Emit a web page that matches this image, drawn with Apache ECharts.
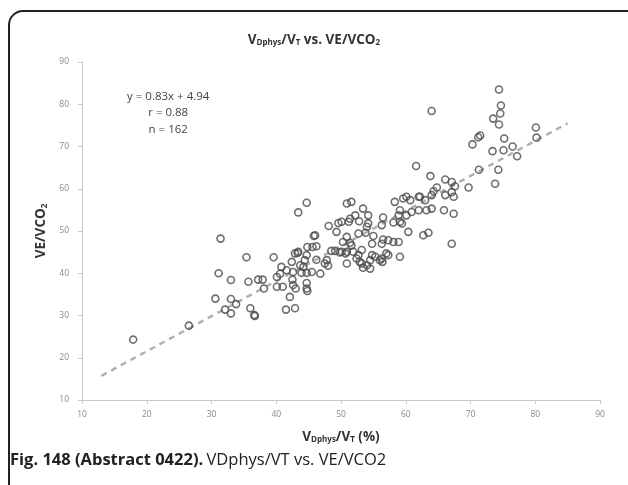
<!DOCTYPE html>
<html>
<head>
<meta charset="utf-8">
<script src="https://cdn.jsdelivr.net/npm/echarts@6/dist/echarts.min.js"></script>
<style>html,body{margin:0;padding:0;background:#fff}#c{width:628px;height:485px}</style>
</head>
<body>
<div id="c"></div>
<script>
const xTicks = [10, 20, 30, 40, 50, 60, 70, 80, 90];
const yTicks = [10, 20, 30, 40, 50, 60, 70, 80, 90];
const vdVt = [17.9,26.5,30.6,31.1,31.4,32.1,33.0,33.0,33.0,33.8,35.4,35.7,36.0,36.6,36.7,37.2,37.9,38.1,39.6,
40.1,40.1,40.6,40.8,41.0,41.5,41.6,42.1,42.4,42.5,42.6,42.6,42.9,42.9,43.0,43.3,43.4,43.4,43.7,43.9,44.2,44.4,44.7,44.7,44.7,44.7,44.8,44.7,44.8,
45.5,45.6,45.8,46.2,46.2,46.8,47.5,47.8,48.0,48.1,48.5,49.1,49.6,49.3,49.8,46.0,
50.1,50.9,51.6,51.4,52.2,51.2,52.8,50.9,51.4,50.3,51.6,52.7,53.8,50.7,50.1,50.9,51.9,53.2,52.4,52.7,50.9,53.2,52.9,53.4,54.0,54.5,53.4,54.2,54.2,54.0,54.8,54.5,54.8,55.0,55.3,
56.0,56.3,56.4,57.0,57.3,56.5,56.3,58.1,58.9,59.1,58.3,59.6,59.1,60.1,59.4,56.5,57.3,58.1,58.9,56.3,59.1,
60.7,62.0,63.0,64.0,64.3,60.9,62.0,63.2,60.4,62.7,63.5,61.6,63.8,64.8,64.0,66.1,67.1,67.6,67.1,66.1,67.4,64.0,65.9,67.4,67.1,60.1,62.2,
69.7,70.3,71.2,71.5,71.3,73.4,73.5,73.8,74.3,74.4,74.6,74.7,74.4,75.1,75.2,76.5,77.2,80.1,80.2];
const veVco2 = [24.3,27.6,34.0,40.0,48.2,31.4,30.5,33.9,38.4,32.7,43.8,38.0,31.7,30.1,29.9,38.5,38.5,36.4,43.8,
39.1,36.8,39.9,41.5,36.8,31.4,40.7,34.4,42.7,38.5,37.2,40.3,31.7,44.7,36.4,44.8,54.4,45.1,41.9,40.1,41.5,43.1,56.7,44.3,37.7,36.4,35.8,40.1,46.2,
40.3,46.2,48.8,46.4,43.2,39.9,42.3,43.1,41.8,51.2,45.3,45.3,51.9,49.8,44.9,49.0,
52.2,56.5,56.9,52.9,53.7,52.2,52.3,48.6,47.2,47.4,46.6,49.4,49.6,44.7,45.1,45.1,45.1,45.5,43.5,44.3,42.3,42.3,42.7,41.3,41.9,41.1,55.3,53.7,51.8,51.0,44.3,43.1,47.0,48.8,43.9,
43.1,43.5,42.7,44.7,44.3,53.2,51.4,52.0,53.7,52.2,56.9,57.7,54.9,53.7,51.8,48.0,47.8,47.4,47.4,47.0,43.9,
57.3,58.1,57.3,58.5,59.4,54.5,54.9,54.9,49.8,49.0,49.6,65.4,63.0,60.3,78.4,62.2,61.6,60.6,59.2,58.5,58.1,55.3,54.9,54.1,47.0,58.1,58.1,
60.3,70.5,72.2,72.6,64.5,68.9,76.6,61.2,64.5,75.2,77.8,79.7,83.5,69.1,71.9,70.0,67.7,74.5,72.1];
const trendX = [13, 85];
const slope = 0.83, intercept = 4.94;
const statLines = ['y = 0.83x + 4.94', 'r = 0.88', 'n = 162'];

const pts = vdVt.map((x, i) => [x, veVco2[i]]);
const trend = trendX.map(x => [x, slope * x + intercept]);

const chart = echarts.init(document.getElementById('c'));
const sub = {fontSize: 8, fontWeight: 'bold', color: '#333', fontFamily: 'Open Sans', padding: [6, 0, 0, 0]};
const mainT = {fontSize: 13.5, fontWeight: 'bold', color: '#333', fontFamily: 'Open Sans'};
chart.setOption({
  animation: false,
  grid: {left: 82, top: 62, right: 28, bottom: 85},
  title: {
    text: '{a|V}{s|Dphys}{a|/V}{s|T}{a| vs. VE/VCO}{s|2}',
    left: 'center', top: 28,
    textStyle: {rich: {a: mainT, s: sub}}
  },
  xAxis: {
    type: 'value', min: 10, max: 90, interval: 10,
    name: '{a|V}{s|Dphys}{a|/V}{s|T}{a| (%)}',
    nameLocation: 'middle', nameGap: 30,
    nameTextStyle: {rich: {a: mainT, s: sub}},
    axisLine: {lineStyle: {color: '#c8c8c8', width: 1}},
    axisTick: {show: true, length: 4, lineStyle: {color: '#c8c8c8'}},
    axisLabel: {color: '#888', fontSize: 8.5, fontFamily: 'Open Sans', margin: 10},
    splitLine: {show: false}
  },
  yAxis: {
    type: 'value', min: 10, max: 90, interval: 10,
    name: '{a|VE/VCO}{s|2}',
    nameLocation: 'middle', nameGap: 30, nameRotate: 90,
    nameTextStyle: {rich: {a: mainT, s: sub}},
    axisLine: {show: true, lineStyle: {color: '#c8c8c8', width: 1}},
    axisTick: {show: true, length: 4, lineStyle: {color: '#c8c8c8'}},
    axisLabel: {color: '#888', fontSize: 8.5, fontFamily: 'Open Sans', margin: 13},
    splitLine: {show: false}
  },
  series: [
    {
      type: 'line', data: trend, symbol: 'none', silent: true,
      lineStyle: {color: '#b0b0b0', width: 2.5, type: [6, 5]}, z: 1
    },
    {
      type: 'scatter', data: pts, symbol: 'circle', symbolSize: 7,
      itemStyle: {color: 'rgba(255,255,255,0)', borderColor: '#4a4a4a', borderWidth: 1.6}, z: 2
    }
  ],
  graphic: [
    {type: 'rect', shape: {x: 9, y: 11, width: 640, height: 500, r: 14},
     style: {fill: 'none', stroke: '#222', lineWidth: 2}, silent: true},
    {type: 'text', left: 177 - 50, top: 88,
     style: {text: statLines.join('\n'), textAlign: 'center', x: 50, fontSize: 11.5, lineHeight: 16.5,
       fill: '#444', fontFamily: 'Open Sans'}},
    {type: 'text', left: 10, top: 452,
     style: {text: '{b|Fig. 148 (Abstract 0422).} {n|VDphys/VT vs. VE/VCO2}',
       rich: {b: {fontSize: 16.5, fontWeight: 'bold', fill: '#222', fontFamily: 'Open Sans'},
              n: {fontSize: 16.5, fill: '#222', fontFamily: 'Open Sans'}}}}
  ]
});
</script>
</body>
</html>
